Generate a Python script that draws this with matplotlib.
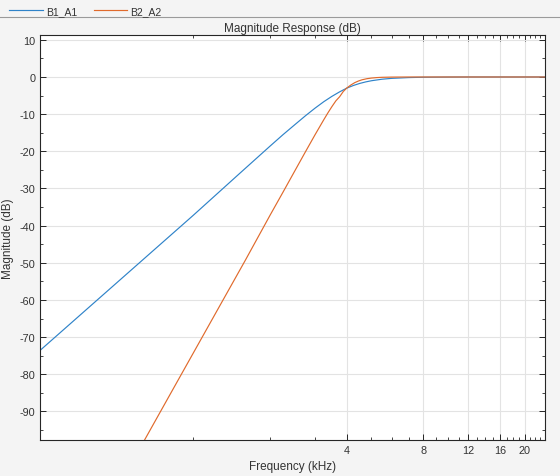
import matplotlib
matplotlib.use("Agg")
import matplotlib.pyplot as plt
from matplotlib.ticker import FixedLocator, NullFormatter
from matplotlib.lines import Line2D

plt.rcParams['font.family'] = ['Liberation Sans', 'DejaVu Sans']
plt.rcParams['axes.unicode_minus'] = False

# valores (frecuencia en kHz, magnitud en dB)
freq_b1 = [0.25, 0.5, 1.0, 1.5, 2.0, 2.25, 2.5, 2.75, 3.0, 3.25, 3.5, 3.75, 4.0, 4.25, 4.5,
           4.75, 5.0, 5.5, 6.0, 7.0, 8.0, 10.0, 12.0, 24.0]
mag_b1 = [-73.6, -55.4, -37.2, -26.3, -18.6, -15.5, -12.85, -10.47, -8.41, -6.65, -5.2, -4.0,
          -3.0, -2.28, -1.73, -1.32, -1.01, -0.6, -0.37, -0.16, -0.07, -0.02, 0.0, 0.0]

freq_b2 = [0.6, 0.8, 1.0, 1.25, 1.6, 2.0, 2.25, 2.5, 2.75, 3.0, 3.25, 3.375, 3.5, 3.625,
           3.75, 3.875, 4.0, 4.15, 4.3, 4.45, 4.59, 4.8, 5.0, 5.25, 5.5, 6.0, 7.0, 24.0]
mag_b2 = [-101.4, -86.1, -74.25, -62.4, -49.3, -37.2, -30.95, -25.3, -20.2, -15.6, -11.5,
          -9.63, -7.94, -6.42, -5.32, -3.92, -2.97, -2.16, -1.52, -1.07, -0.76, -0.46, -0.29,
          -0.16, -0.09, -0.03, 0.0, 0.0]

x_major = [4, 8, 12, 16, 20]
x_minor = [1, 2, 3, 5, 6, 7, 9, 10, 11, 13, 14, 15, 17, 18, 19, 21, 22, 23]
y_major = list(range(-90, 11, 10))
y_minor = [-95, -85, -75, -65, -55, -45, -35, -25, -15, -5, 5]

fondo = '#f4f4f4'
texto = '#333333'

fig = plt.figure(figsize=(5.6, 4.77), dpi=100, facecolor=fondo)
ax = fig.add_axes([40 / 560, 36 / 477, 505 / 560, 405 / 477])
ax.set_facecolor('white')

l1, = ax.plot(freq_b1, mag_b1, color='#2f83c9', lw=0.85, label='B1_A1')
l2, = ax.plot(freq_b2, mag_b2, color='#e06a2c', lw=0.85, label='B2_A2')

ax.set_xscale('log')
ax.set_xlim(0.25, 24)
ax.set_ylim(-97.7, 11.3)

ax.xaxis.set_major_locator(FixedLocator(x_major))
ax.xaxis.set_minor_locator(FixedLocator(x_minor))
ax.set_xticklabels([str(v) for v in x_major])
ax.xaxis.set_minor_formatter(NullFormatter())
ax.yaxis.set_major_locator(FixedLocator(y_major))
ax.yaxis.set_minor_locator(FixedLocator(y_minor))

ax.grid(True, which='major', color='#e3e3e3', lw=0.8)
ax.set_axisbelow(True)

ax.tick_params(which='both', direction='in', top=True, right=True,
               colors='#262626', labelcolor=texto, labelsize=7.8)
ax.tick_params(which='major', length=4, width=0.7)
ax.tick_params(which='minor', length=2, width=0.6)
for s in ax.spines.values():
    s.set_color('#262626')
    s.set_linewidth(0.8)

ax.set_title('Magnitude Response (dB)', fontsize=8.5, color=texto, pad=3)
ax.set_xlabel('Frequency (kHz)', fontsize=8.5, color=texto, labelpad=4)
ax.set_ylabel('Magnitude (dB)', fontsize=8.5, color=texto, labelpad=4)

fig.legend(handles=[l1, l2], loc='upper left', bbox_to_anchor=(0.0, 1.005), ncol=2,
           frameon=False, fontsize=7.5, handlelength=3.2, handletextpad=0.3,
           columnspacing=1.6, labelcolor=texto)
fig.add_artist(Line2D([0, 1], [1 - 17.5 / 477] * 2, color='#9a9a9a', lw=0.8))

fig.savefig('out.png', dpi=100, facecolor=fondo)
